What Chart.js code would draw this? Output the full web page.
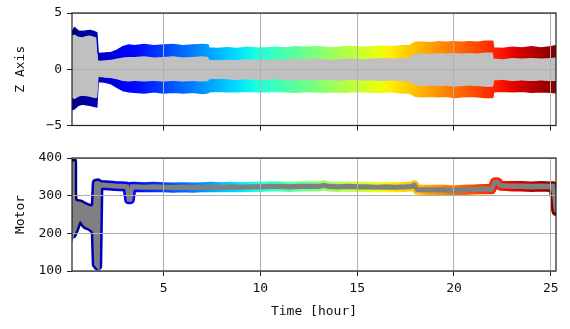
<!DOCTYPE html>
<html>
<head>
<meta charset="utf-8">
<script src="https://cdn.jsdelivr.net/npm/chart.js@4.4.1/dist/chart.umd.min.js"></script>
<style>
  body { margin: 0; background: #fff; }
  #wrap { position: relative; width: 570px; height: 329px; }
  canvas { position: absolute; left: 0; }
</style>
</head>
<body>
<div id="wrap">
  <canvas id="zChart" width="570" height="140" style="top:0"></canvas>
  <canvas id="motorChart" width="570" height="184" style="top:145px"></canvas>
</div>
<script>
// --- data ---
const timeTicks = [5, 10, 15, 20, 25];
const zTicks = [-5, 0, 5];
const motorTicks = [100, 200, 300, 400];

const zTime = [0.27, 0.4, 0.6, 0.8, 1.0, 1.2, 1.4, 1.55, 1.62, 1.7,
  2.0, 2.3, 2.6, 2.9, 3.2, 3.5, 4.0, 4.5, 5.0, 5.5,
  6.0, 6.5, 7.0, 7.3, 7.35, 7.8, 8.3, 8.8, 9.3, 9.8,
  10.3, 10.8, 11.3, 11.8, 12.3, 12.8, 13.3, 13.8, 14.3, 14.8,
  15.3, 15.8, 16.3, 16.8, 17.3, 17.7, 18.0, 18.4, 18.8, 19.2,
  19.6, 20.0, 20.4, 20.8, 21.2, 21.6, 22.0, 22.05, 22.5, 23.0,
  23.5, 24.0, 24.5, 25.0, 25.27];
const zOuterTop = [3.3, 3.7, 3.4, 3.35, 3.4, 3.45, 3.35, 3.25, 1.45, 1.4,
  1.45, 1.5, 1.7, 2.0, 2.15, 2.1, 2.2, 2.1, 2.15, 2.2,
  2.1, 2.15, 2.2, 2.15, 1.9, 1.85, 1.9, 1.85, 1.95, 1.9,
  1.9, 1.95, 1.9, 2.0, 1.95, 2.0, 1.95, 1.9, 2.0, 2.0,
  1.95, 2.0, 2.05, 2.0, 2.1, 2.1, 2.4, 2.4, 2.35, 2.45,
  2.4, 2.45, 2.4, 2.45, 2.4, 2.5, 2.5, 1.9, 1.85, 1.95,
  1.9, 2.0, 1.9, 2.0, 2.1];
const zInnerTop = [3.0, 3.1, 2.9, 2.85, 2.95, 3.0, 2.9, 2.8, 0.8, 0.75,
  0.8, 0.85, 0.95, 1.05, 1.1, 1.1, 1.15, 1.05, 1.1, 1.15,
  1.05, 1.1, 1.15, 1.1, 0.85, 0.8, 0.85, 0.8, 0.9, 0.85,
  0.85, 0.9, 0.85, 0.95, 0.9, 0.95, 0.9, 0.85, 0.95, 0.95,
  0.9, 0.95, 1.0, 0.95, 1.0, 1.05, 1.4, 1.4, 1.35, 1.45,
  1.4, 1.45, 1.4, 1.45, 1.4, 1.5, 1.5, 0.95, 0.9, 1.0,
  0.95, 1.0, 0.95, 1.0, 1.05];
const zInnerBot = [-2.5, -2.6, -2.4, -2.3, -2.35, -2.4, -2.5, -2.5, -0.65, -0.65,
  -0.7, -0.75, -0.85, -1.0, -1.05, -1.0, -1.05, -1.0, -1.05, -1.0,
  -1.05, -1.0, -1.05, -1.0, -0.85, -0.8, -0.85, -0.9, -0.85, -0.9,
  -0.9, -0.85, -0.9, -0.95, -0.9, -0.95, -0.9, -0.95, -0.95, -0.9,
  -0.95, -0.95, -1.0, -0.95, -1.0, -1.05, -1.4, -1.45, -1.4, -1.45,
  -1.4, -1.5, -1.45, -1.4, -1.45, -1.5, -1.5, -0.95, -0.9, -1.0,
  -0.95, -1.0, -0.95, -1.0, -1.0];
const zOuterBot = [-3.6, -3.5, -3.2, -3.1, -3.15, -3.2, -3.3, -3.35, -1.1, -1.1,
  -1.15, -1.3, -1.6, -1.9, -2.0, -2.05, -2.1, -2.0, -2.1, -2.05,
  -2.1, -2.05, -2.15, -2.1, -2.0, -1.95, -2.0, -2.0, -1.95, -2.0,
  -2.0, -1.95, -2.0, -2.05, -2.0, -2.0, -2.05, -2.0, -2.05, -2.0,
  -2.0, -2.05, -2.05, -2.0, -2.1, -2.1, -2.4, -2.45, -2.4, -2.45,
  -2.4, -2.5, -2.45, -2.4, -2.45, -2.5, -2.5, -2.0, -1.95, -2.0,
  -1.95, -2.05, -2.0, -2.05, -2.1];

const motorTime = [0.27, 0.3, 0.34, 0.4, 0.5, 0.6, 0.7, 0.8, 0.9, 1.0,
  1.1, 1.2, 1.3, 1.4, 1.47, 1.52, 1.6, 1.66, 1.75, 2.0,
  2.5, 3.0, 3.12, 3.2, 3.28, 3.36, 3.5, 4.0, 4.5, 5.0,
  5.5, 6.0, 6.5, 7.0, 7.5, 8.0, 8.5, 9.0, 9.5, 10.0,
  10.5, 11.0, 11.5, 12.0, 12.5, 13.0, 13.3, 13.5, 14.0, 14.5,
  15.0, 15.5, 16.0, 16.5, 17.0, 17.5, 17.8, 17.95, 18.1, 18.5,
  19.0, 19.5, 20.0, 20.5, 21.0, 21.5, 21.95, 22.1, 22.25, 22.4,
  22.7, 23.0, 23.5, 24.0, 24.5, 25.0, 25.12, 25.2, 25.27];
const motorHi = [390, 305, 285, 282, 280, 279, 278, 275, 272, 270,
  268, 266, 265, 268, 275, 333, 334, 332, 330, 329,
  327, 326, 325, 292, 292, 325, 325, 324, 325, 324,
  323, 324, 323, 324, 325, 324, 325, 324, 325, 325,
  326, 326, 325, 326, 326, 326, 329, 326, 325, 326,
  325, 325, 324, 325, 324, 325, 326, 329, 318, 317,
  317, 317, 315, 317, 318, 319, 319, 337, 337, 328,
  327, 327, 327, 326, 327, 326, 326, 300, 262];
const motorLo = [390, 198, 205, 210, 225, 238, 241, 235, 228, 222,
  220, 218, 214, 210, 203, 118, 113, 320, 327, 326,
  324, 323, 322, 289, 289, 322, 322, 321, 322, 321,
  320, 321, 320, 321, 322, 321, 322, 321, 322, 322,
  323, 323, 322, 323, 323, 323, 326, 323, 322, 323,
  322, 322, 321, 322, 321, 322, 323, 326, 315, 314,
  314, 314, 312, 314, 315, 316, 316, 334, 334, 325,
  324, 323, 323, 322, 323, 322, 322, 290, 258];

const timeMin = 0.27, timeMax = 25.27;

// --- helpers ---
const JET_R = [[0, 0], [0.35, 0], [0.66, 1], [0.89, 1], [1, 0.5]];
const JET_G = [[0, 0], [0.125, 0], [0.375, 1], [0.64, 1], [0.91, 0], [1, 0]];
const JET_B = [[0, 0.5], [0.11, 1], [0.34, 1], [0.65, 0], [1, 0]];

function channel(pts, f) {
  for (let i = 1; i < pts.length; i++) {
    if (f <= pts[i][0]) {
      const [x0, y0] = pts[i - 1], [x1, y1] = pts[i];
      return y0 + (y1 - y0) * (f - x0) / (x1 - x0);
    }
  }
  return pts[pts.length - 1][1];
}

function jetGradient(chart) {
  const { ctx, chartArea } = chart;
  if (!chartArea) return '#888';
  const g = ctx.createLinearGradient(chartArea.left, 0, chartArea.right, 0);
  for (let i = 0; i <= 50; i++) {
    const f = i / 50;
    const r = Math.round(255 * channel(JET_R, f));
    const gr = Math.round(255 * channel(JET_G, f));
    const b = Math.round(255 * channel(JET_B, f));
    g.addColorStop(f, `rgb(${r},${gr},${b})`);
  }
  return g;
}

const points = (times, vals) => times.map((t, i) => ({ x: t, y: vals[i] }));
const jet = (c) => jetGradient(c.chart);
const minus = (v) => String(v).replace('-', '\u2212');

const framePlugin = {
  id: 'frame',
  afterDraw(chart) {
    const { ctx, chartArea: a } = chart;
    ctx.save();
    ctx.strokeStyle = '#222';
    ctx.lineWidth = 1.2;
    ctx.strokeRect(a.left, a.top, a.right - a.left, a.bottom - a.top);
    ctx.restore();
  }
};

Chart.defaults.font.family = '"DejaVu Sans Mono", monospace';
Chart.defaults.font.size = 13;
Chart.defaults.color = '#111';

const gridOpts = { color: '#b0b0b0', lineWidth: 1, z: 1, tickColor: '#222', tickLength: 5 };

const xAxis = (showLabels) => ({
  type: 'linear',
  min: timeMin,
  max: timeMax,
  afterBuildTicks: (s) => { s.ticks = timeTicks.map(v => ({ value: v })); },
  grid: gridOpts,
  border: { display: false },
  ticks: { display: showLabels, padding: 5 },
  title: showLabels
    ? { display: true, text: 'Time [hour]', padding: { top: 0, bottom: 10 }, font: { size: 13 } }
    : { display: false }
});

const yAxis = (min, max, tickVals, label) => ({
  min: min,
  max: max,
  afterBuildTicks: (s) => { s.ticks = tickVals.map(v => ({ value: v })); },
  afterFit: (s) => { s.width = 72; },
  grid: gridOpts,
  border: { display: false },
  ticks: { padding: 5, callback: minus },
  title: { display: true, text: label, padding: { top: 13, bottom: 0 }, font: { size: 13 } }
});

const common = {
  responsive: false,
  animation: false,
  devicePixelRatio: 1,
  plugins: { legend: { display: false }, tooltip: { enabled: false } },
  elements: { point: { radius: 0 }, line: { tension: 0 } }
};

// top panel: Z axis
new Chart(document.getElementById('zChart'), {
  type: 'line',
  data: {
    datasets: [
      { data: points(zTime, zOuterTop), fill: 1, backgroundColor: jet, borderColor: jet, borderWidth: 1.5 },
      { data: points(zTime, zInnerTop), fill: 2, backgroundColor: '#c0c0c0', borderColor: '#c0c0c0', borderWidth: 1 },
      { data: points(zTime, zInnerBot), fill: 3, backgroundColor: jet, borderColor: '#c0c0c0', borderWidth: 1 },
      { data: points(zTime, zOuterBot), fill: false, borderColor: jet, borderWidth: 1.5 }
    ]
  },
  options: {
    ...common,
    layout: { padding: { top: 13, right: 14, left: 0, bottom: 0 } },
    scales: {
      x: { ...xAxis(false), afterFit: (s) => { s.height = 14.5; } },
      y: yAxis(-5, 5, zTicks, 'Z Axis')
    }
  },
  plugins: [framePlugin]
});

// bottom panel: Motor
new Chart(document.getElementById('motorChart'), {
  type: 'line',
  data: {
    datasets: [
      { data: points(motorTime, motorHi), order: 0, fill: 1, backgroundColor: '#808080', borderColor: '#808080', borderWidth: 4 },
      { data: points(motorTime, motorLo), order: 0, fill: false, borderColor: '#808080', borderWidth: 4 },
      { data: points(motorTime, motorHi), order: 1, fill: false, borderColor: jet, borderWidth: 9, borderCapStyle: 'round', borderJoinStyle: 'round' },
      { data: points(motorTime, motorLo), order: 1, fill: false, borderColor: jet, borderWidth: 9, borderCapStyle: 'round', borderJoinStyle: 'round' }
    ]
  },
  options: {
    ...common,
    layout: { padding: { top: 13, right: 14, left: 0, bottom: 0 } },
    scales: {
      x: { ...xAxis(true), afterFit: (s) => { s.height = 58; } },
      y: yAxis(100, 400, motorTicks, 'Motor')
    }
  },
  plugins: [framePlugin]
});
</script>
</body>
</html>
